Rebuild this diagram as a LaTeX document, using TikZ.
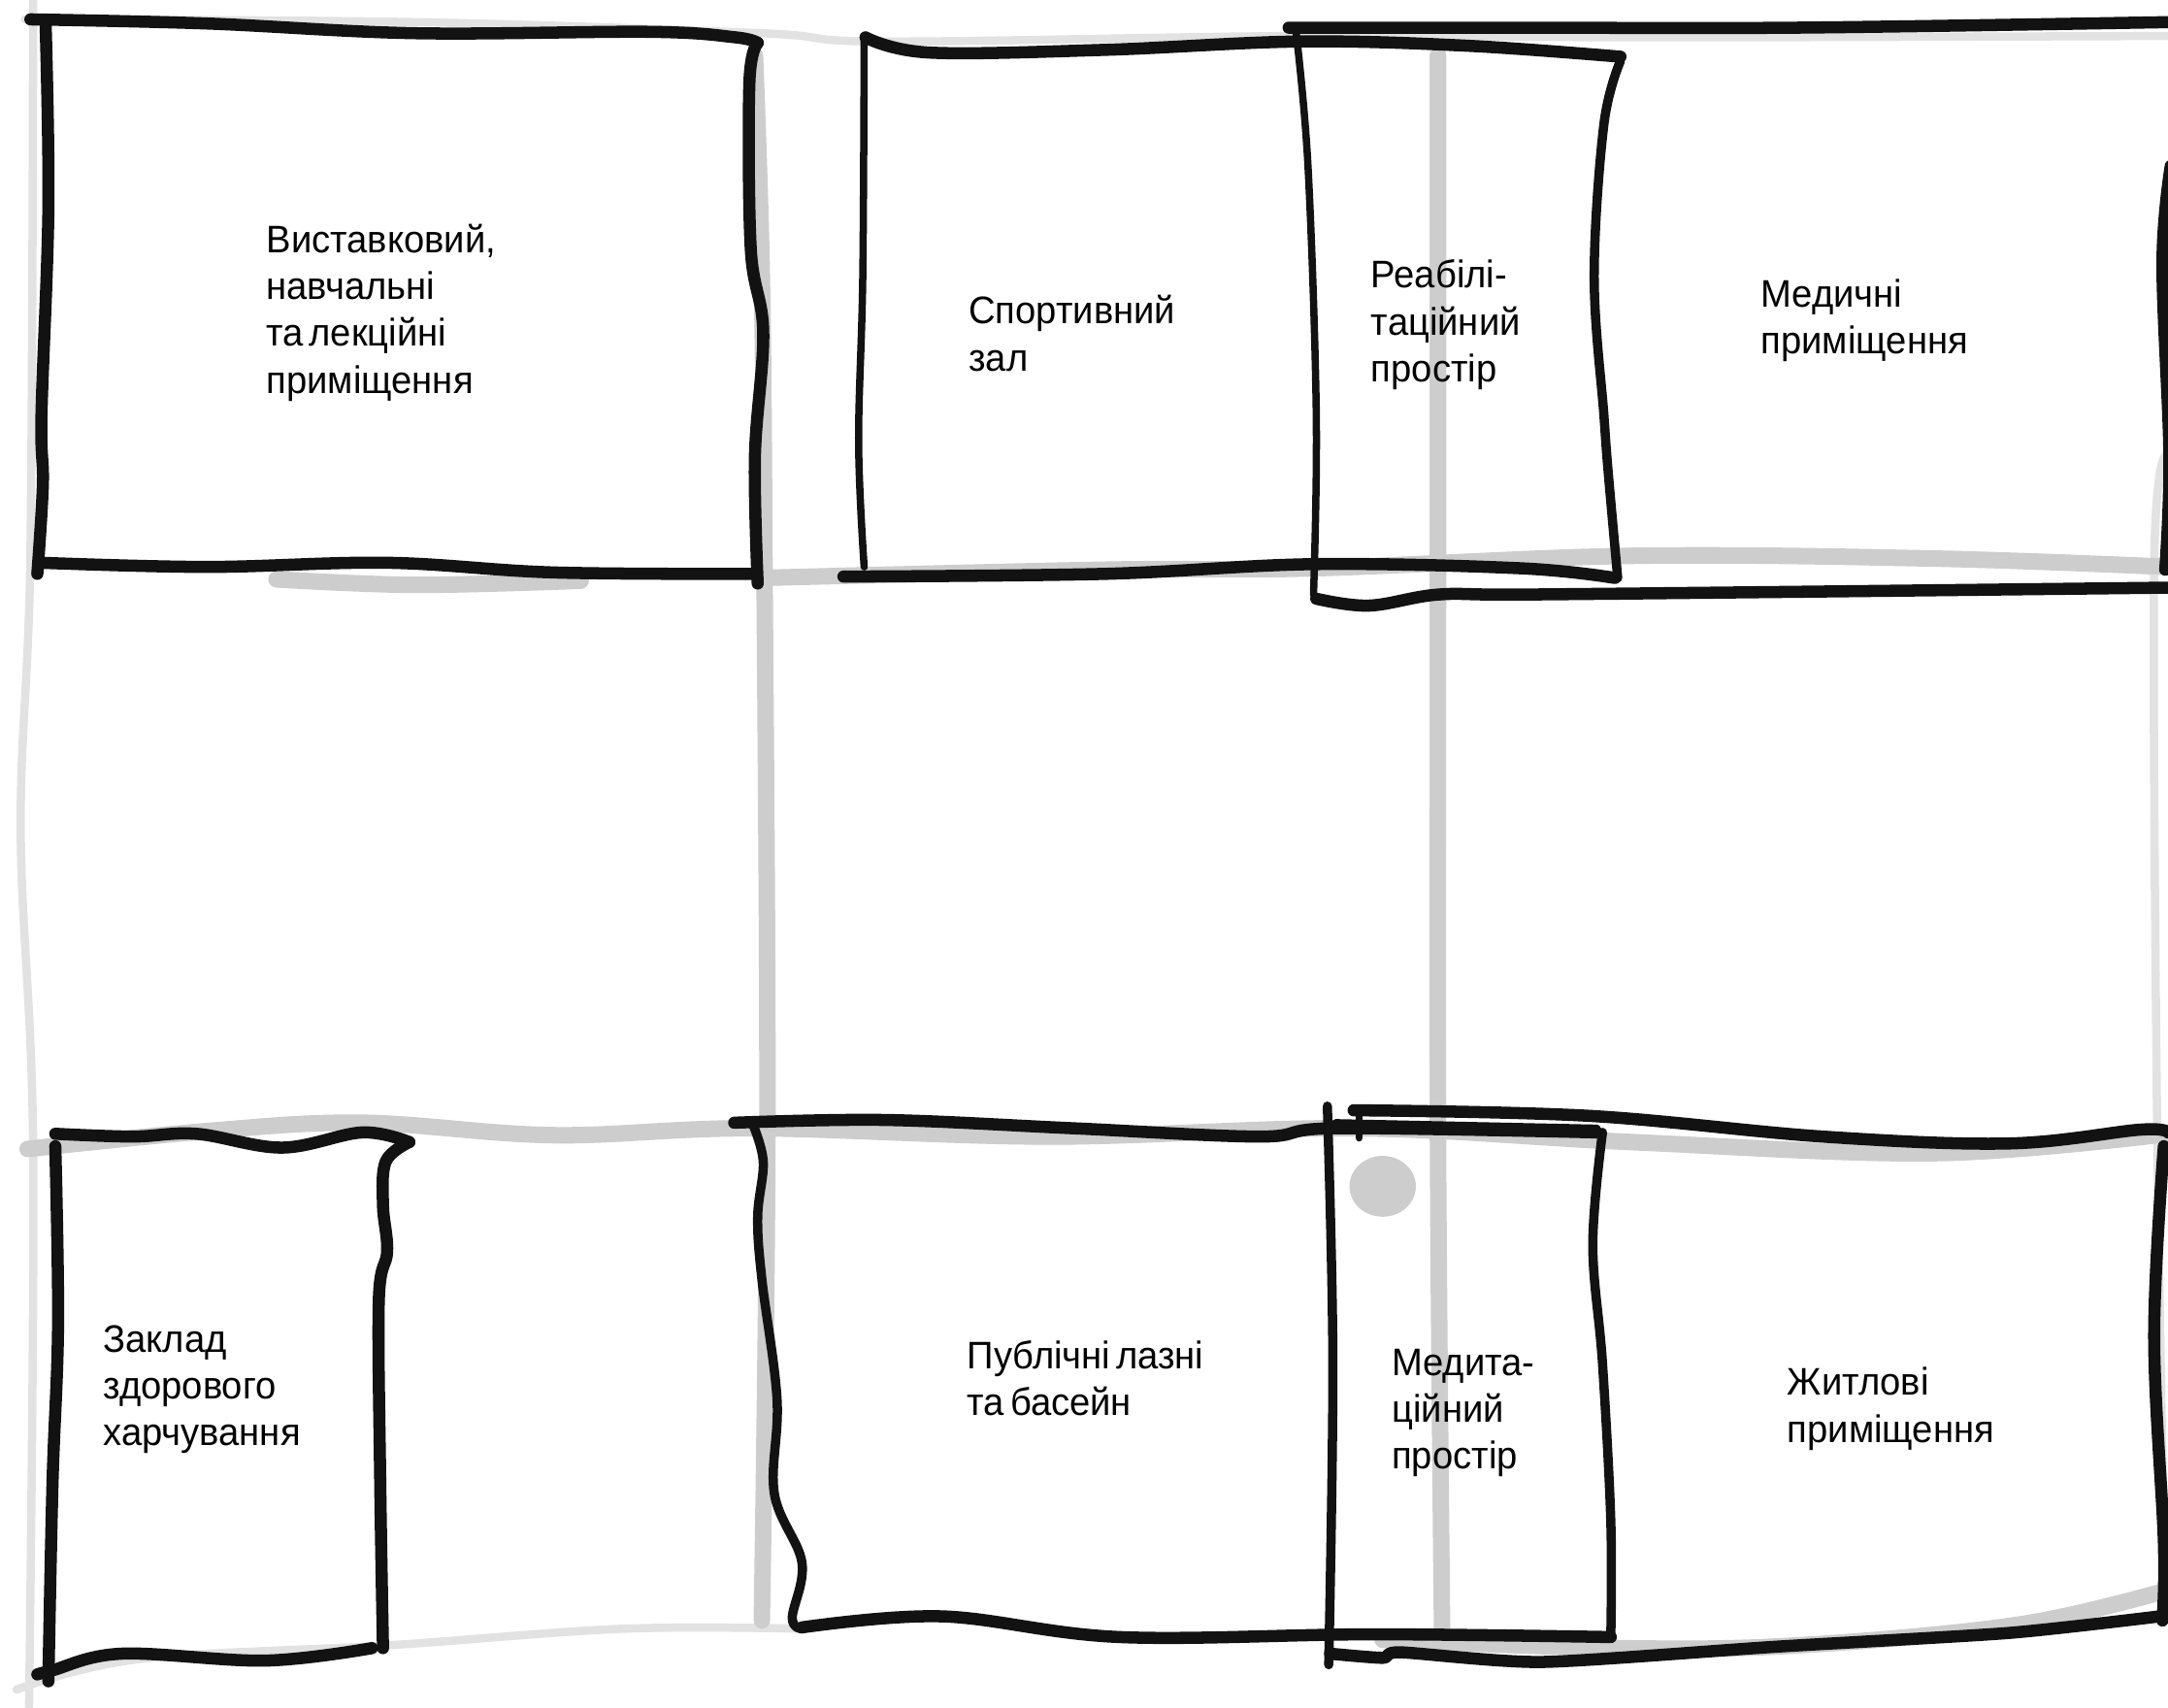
\documentclass[tikz,border=0pt]{standalone}
\usepackage{fontspec}
\setmainfont{Liberation Sans}[FakeStretch=0.965,WordSpace=0.55]
\definecolor{pencil}{RGB}{205,205,205}
\definecolor{palegray}{RGB}{226,226,226}
\definecolor{ink}{RGB}{18,18,18}
\tikzset{
  paleline/.style={palegray, line width=1.7pt, line cap=round},
  gridline/.style={pencil, line width=3.4pt, line cap=round},
  inkline/.style={ink, line width=2.5pt, line cap=round, line join=round},
  thinline/.style={ink, line width=1.5pt, line cap=round, line join=round},
  roomlabel/.style={anchor=west, align=left, inner sep=0pt, text=black}
}

\begin{document}
\begin{tikzpicture}[x=0.01cm, y=-0.01cm, font=\fontsize{7.9}{9.64}\selectfont]
\useasboundingbox (0,0) rectangle (1568,1235);

% ===== PENCIL GRID =====
\draw[paleline] plot[smooth, tension=0.6] coordinates {(24,0) (22,400) (15,600) (24,830) (21,1235)};
\draw[paleline] plot[smooth, tension=0.6] coordinates {(18,14) (300,16) (550,24) (640,30) (940,26) (1200,27) (1568,26)};
\draw[paleline] plot[smooth, tension=0.6] coordinates {(1566,330) (1558,410) (1560,800) (1566,1165)};
\draw[paleline] plot[smooth, tension=0.6] coordinates {(12,1222) (100,1200) (280,1190) (450,1178) (580,1178)};
\draw[gridline] plot[smooth, tension=0.6] coordinates {(546,40) (551,200) (553,420) (555,820) (551,1172)};
\draw[gridline] plot[smooth, tension=0.6] coordinates {(1040,40) (1040,420) (1040,820) (1043,1180)};
\draw[gridline] plot[smooth, tension=0.6] coordinates {(200,419) (300,423) (420,420)};
\draw[gridline] plot[smooth, tension=0.6] coordinates {(550,418) (800,412) (950,411) (1180,402) (1400,404) (1568,410)};
\draw[gridline] plot[smooth, tension=0.6] coordinates {(20,831) (150,818) (262,812) (400,821) (545,816) (760,822) (980,816) (1180,826) (1400,834) (1568,820)};
\draw[gridline] plot[smooth, tension=0.6] coordinates {(1000,1186) (1170,1192) (1300,1190) (1460,1175) (1568,1150)};
\fill[pencil] (1000,858) ellipse (24 and 22);

% ===== UPPER LEFT ROOM =====
\draw[inkline] plot[smooth, tension=0.6] coordinates {(22,14) (150,17) (300,24) (470,23) (532,27) (548,31)};
\draw[inkline] plot[smooth, tension=0.6] coordinates {(33,18) (35,150) (30,300) (31,350) (27,415)};
\draw[inkline] plot[smooth, tension=0.6] coordinates {(548,31) (542,60) (543,180) (552,240) (546,330) (548,422)};
\draw[inkline] plot[smooth, tension=0.6] coordinates {(30,407) (150,410) (280,407) (400,414) (545,415)};

% ===== SPORTS HALL AND REHABILITATION =====
\draw[inkline] plot[smooth, tension=0.6] coordinates {(626,27) (672,38) (800,36) (940,30) (1060,33) (1172,41)};
\draw[thinline] plot[smooth, tension=0.6] coordinates {(625,26) (624,200) (621,320) (625,410)};
\draw[inkline] plot[smooth, tension=0.6] coordinates {(610,417) (800,415) (950,408) (1100,411) (1168,418)};
\draw[thinline] plot[smooth, tension=0.6] coordinates {(937,20) (946,120) (952,300) (950,430)};
\draw[inkline] plot[smooth, tension=0.6] coordinates {(952,433) (990,438) (1040,430) (1100,430) (1300,428) (1568,425)};
\draw[thinline, line width=1.9pt] plot[smooth, tension=0.6] coordinates {(1172,44) (1160,90) (1153,200) (1160,300) (1163,340) (1170,418)};
\draw[inkline] plot[smooth, tension=0.6] coordinates {(932,20) (1100,20) (1300,20) (1568,16)};
\draw[inkline] plot[smooth, tension=0.6] coordinates {(1570,120) (1564,190) (1569,330) (1566,412)};

% ===== CANTEEN =====
\draw[inkline] plot[smooth, tension=0.6] coordinates {(40,820) (96,822) (142,820) (204,830) (262,819) (296,826)};
\draw[inkline] plot[smooth, tension=0.6] coordinates {(296,826) (279,840) (277,872) (280,905) (274,940) (275,1072) (277,1192)};
\draw[inkline] plot[smooth, tension=0.6] coordinates {(27,1211) (38,1208) (88,1196) (192,1201) (269,1192)};
\draw[inkline] plot[smooth, tension=0.6] coordinates {(40,829) (42,958) (38,1072) (35,1216)};

% ===== BATHS AND MEDITATION =====
\draw[inkline] plot[smooth, tension=0.6] coordinates {(531,812) (640,810) (776,816) (911,822) (966,816) (1155,819)};
\draw[inkline] plot[smooth, tension=0.6] coordinates {(979,803) (1149,807) (1318,822) (1453,827) (1548,817) (1568,819)};
\draw[thinline, line width=1.9pt] plot[smooth, tension=0.6] coordinates {(544,812) (552,840) (548,880) (551,925) (562,1012) (560,1080) (580,1130) (573,1170) (580,1178)};
\draw[inkline] plot[smooth, tension=0.6] coordinates {(580,1177) (681,1169) (810,1184) (993,1182) (1165,1184)};
\draw[thinline, line width=1.9pt] plot[smooth, tension=0.6] coordinates {(960,800) (964,986) (961,1204)};
\draw[thinline, line width=1.9pt] plot[smooth, tension=0.6] coordinates {(1159,819) (1152,900) (1159,986) (1165,1100) (1165,1184)};
\draw[inkline] plot[smooth, tension=0.4] coordinates {(962,1196) (1000,1199) (1013,1195) (1115,1202) (1284,1191) (1453,1181) (1562,1169)};
\draw[thinline] (983,802) -- (983,823);
\draw[thinline] (966,812) -- (1155,816);
\draw[inkline] plot[smooth, tension=0.6] coordinates {(1565,829) (1558,966) (1565,1115) (1564,1172)};

% ===== ROOM NAMES =====
\node[roomlabel] (exhibition) at (192,226) {Виставковий,\\навчальні\\та лекційні\\приміщення};
\node[roomlabel] (sportshall) at (700,241) {Спортивний\\зал};
\node[roomlabel] (rehab) at (991,235) {Реабілі-\\таційний\\простір};
\node[roomlabel] (medical) at (1273,232) {Медичні\\приміщення};
\node[roomlabel] (canteen) at (74,1005) {Заклад\\здорового\\харчування};
\node[roomlabel] (baths) at (699,997) {Публічні лазні\\та басейн};
\node[roomlabel] (meditation) at (1006,1022) {Медита-\\ційний\\простір};
\node[roomlabel] (housing) at (1292,1019) {Житлові\\приміщення};

\end{tikzpicture}
\end{document}
